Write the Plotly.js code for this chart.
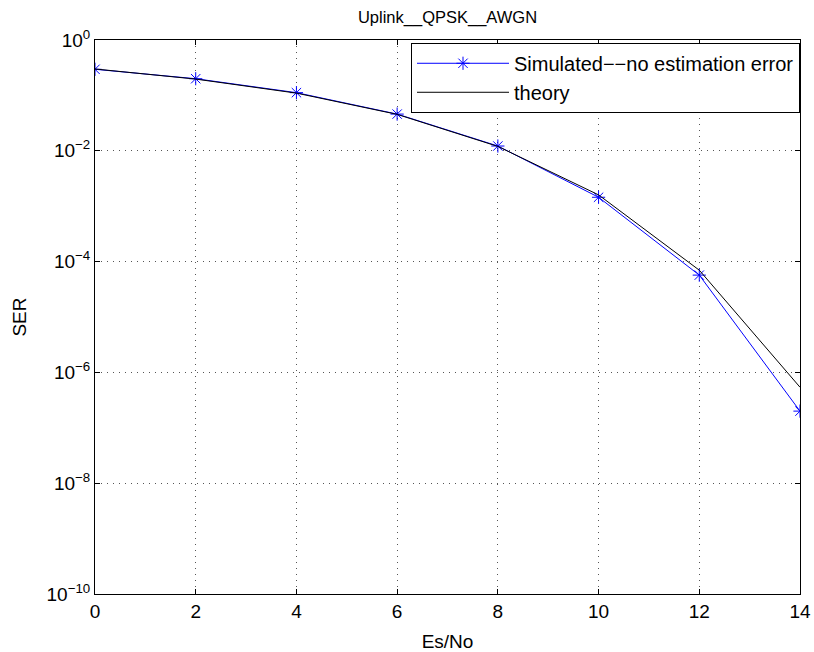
<!DOCTYPE html>
<html>
<head>
<meta charset="utf-8">
<script src="https://cdn.plot.ly/plotly-3.0.1.min.js"></script>
<style>html,body{margin:0;padding:0;background:#fff;}#chart{width:814px;height:652px;}</style>
</head>
<body>
<div id="chart"></div>
<script>
const esno = [0, 2, 4, 6, 8, 10, 12, 14];
const serSimulated = [0.296, 0.200, 0.112, 0.046, 0.0122, 1.45e-3, 5.7e-5, 2.0e-7];
const serTheory = [0.300, 0.197, 0.110, 0.0455, 0.0120, 1.6e-3, 7.0e-5, 5.4e-7];
const xTicks = [0, 2, 4, 6, 8, 10, 12, 14];
const yTickVals = [1, 1e-2, 1e-4, 1e-6, 1e-8, 1e-10];
const yTickText = ['10<sup>0</sup>', '10<sup>\u22122</sup>', '10<sup>\u22124</sup>', '10<sup>\u22126</sup>', '10<sup>\u22128</sup>', '10<sup>\u221210</sup>'];

const font = 'Liberation Sans, Arial, sans-serif';
const traces = [
  {x: esno, y: serSimulated, type: 'scatter', mode: 'lines+markers', name: 'Simulated\u2212\u2212no estimation error',
   line: {color: '#0000ff', width: 1}, marker: {symbol: 'asterisk-open', size: 11, color: '#0000ff', line: {color: '#0000ff', width: 1}}},
  {x: esno, y: serTheory, type: 'scatter', mode: 'lines', name: 'theory',
   line: {color: '#000000', width: 1}}
];
const layout = {
  width: 814, height: 652,
  margin: {l: 95, r: 14, t: 40, b: 58},
  paper_bgcolor: '#fff', plot_bgcolor: '#fff',
  font: {family: font, size: 19, color: '#000'},
  title: {text: 'Uplink__QPSK__AWGN', font: {family: font, size: 16.5, color: '#000'}, x: 0.5, xref: 'paper', y: 0.982, yanchor: 'top'},
  showlegend: true,
  legend: {x: 1, xanchor: 'right', y: 0.995, yanchor: 'top', bgcolor: '#fff', bordercolor: '#000', borderwidth: 1,
           font: {family: font, size: 20, color: '#000'}, tracegroupgap: 0, itemwidth: 92},
  xaxis: {range: [0, 14], tickmode: 'array', tickvals: xTicks, ticktext: xTicks.map(String),
          showline: true, linecolor: '#000', linewidth: 1, mirror: 'ticks', ticks: 'inside', ticklen: 5, tickcolor: '#000',
          showgrid: true, gridcolor: '#555', griddash: '1px,5px', gridwidth: 1, zeroline: false,
          title: {text: 'Es/No', font: {family: font, size: 19}, standoff: 14}},
  yaxis: {type: 'log', range: [-10, 0], tickmode: 'array', tickvals: yTickVals, ticktext: yTickText,
          showline: true, linecolor: '#000', linewidth: 1, mirror: 'ticks', ticks: 'inside', ticklen: 5, tickcolor: '#000',
          showgrid: true, gridcolor: '#555', griddash: '1px,5px', gridwidth: 1, zeroline: false,
          title: {text: 'SER', font: {family: font, size: 19}, standoff: 14}}
};
Plotly.newPlot('chart', traces, layout, {displayModeBar: false, staticPlot: true});
</script>
</body>
</html>
